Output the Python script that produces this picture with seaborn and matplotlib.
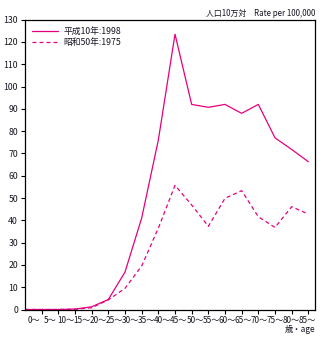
import numpy as np
import pandas as pd
import matplotlib
matplotlib.use("Agg")
import matplotlib.pyplot as plt
import seaborn as sns

# Age groups (5-year bands) and rates per 100,000
age_groups = ["0～", "5～", "10～", "15～", "20～", "25～", "30～", "35～", "40～",
              "45～", "50～", "55～", "60～", "65～", "70～", "75～", "80～", "85～"]
rate_1998 = [0, 0, 0, 0.2, 1.2, 4.5, 16.8, 41, 76, 123.5,
             92, 90.7, 92, 88, 92, 77, 71.8, 66.3]
rate_1975 = [0, 0, 0, 0.1, 0.8, 4.3, 9.5, 19.5, 36.5, 55.7,
             46.9, 37.3, 49.9, 53.3, 41.6, 36.8, 46.1, 42.8]
series_labels = ["平成10年:1998", "昭和50年:1975"]
y_ticks = list(range(0, 131, 10))

sns.set_theme(style="ticks")
plt.rcParams["font.family"] = ["Noto Sans CJK JP", "DejaVu Sans"]

pos = np.arange(len(age_groups))
df = pd.DataFrame({
    "pos": np.concatenate([pos, pos]),
    "rate": rate_1998 + rate_1975,
    "year": [series_labels[0]] * len(pos) + [series_labels[1]] * len(pos),
})

color = "#E6007E"
text_color = "#151522"
fig = plt.figure(figsize=(3.27, 3.46), dpi=100)
ax = fig.add_axes([25 / 327, 1 - 309.5 / 346, 290 / 327, 289.8 / 346])

sns.lineplot(data=df, x="pos", y="rate", style="year", color=color,
             dashes={series_labels[0]: "", series_labels[1]: (3.2, 2.4)},
             linewidth=0.9, ax=ax, legend=True)

ax.set_xlim(0, 17.4)
ax.set_ylim(0, 130)
ax.set_yticks(y_ticks)
ax.set_yticklabels([str(v) for v in y_ticks], fontsize=6.3, color=text_color)

# tick marks between bands, band labels spread along the axis
ax.set_xticks(pos[1:])
ax.set_xticklabels([])
label_pos = 0.55 + np.arange(len(age_groups)) * 0.965
ax.set_xticks(label_pos, minor=True)
ax.set_xticklabels(age_groups, minor=True, fontsize=5.9, color=text_color)
ax.tick_params(axis="x", which="minor", length=0, pad=5)
ax.tick_params(axis="both", which="major", length=3, width=0.8, color="black", pad=2)

for s in ax.spines.values():
    s.set_visible(True)
    s.set_linewidth(0.9)
    s.set_color("black")

ax.set_xlabel("")
ax.set_ylabel("")

leg = ax.legend(loc="upper left", frameon=False, fontsize=6.3,
                handlelength=3.0, handletextpad=0.6, labelspacing=0.25,
                borderaxespad=0.4, bbox_to_anchor=(0.0, 1.0))
for text in leg.get_texts():
    text.set_color(text_color)
for line in leg.get_lines():
    line.set_color(color)
    line.set_linewidth(0.9)

fig.text(315 / 327, 1 - 13 / 346, "人口10万対　Rate per 100,000",
         ha="right", va="center", fontsize=5.7, color=text_color)
fig.text(315 / 327, 1 - 330 / 346, "歳・age",
         ha="right", va="center", fontsize=6.0, color=text_color)

fig.savefig("out.png", dpi=100, facecolor="white")
